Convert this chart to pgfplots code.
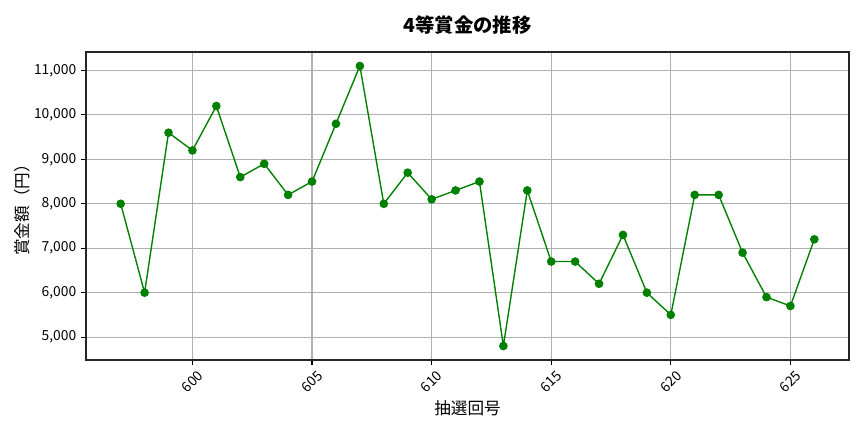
\documentclass[border=0pt]{standalone}
\usepackage{pgfplots}
\pgfplotsset{compat=1.18}
\usepackage{fontspec}
\setmainfont{Noto Sans CJK JP}
\definecolor{mplgreen}{HTML}{008000}
\definecolor{gridgray}{HTML}{B0B0B0}
\begin{document}
\begin{tikzpicture}
\path[use as bounding box] (0,0) rectangle (8.64in,4.32in);
\begin{axis}[
  at={(0.86in,0.72in)}, anchor=south west,
  width=7.63in, height=3.08in, scale only axis,
  xmin=595.55, xmax=627.45,
  ymin=4485, ymax=11415,
  xtick={600,605,...,625},
  ytick={5000,6000,...,11000},
  grid=major,
  major grid style={gridgray, line width=0.8pt},
  axis line style={black!85, line width=0.8pt},
  tick align=outside, tick pos=left,
  major tick length=3.5pt,
  every tick/.style={black, line width=0.8pt},
  /pgf/number format/assume math mode=true,
  yticklabel style={/pgf/number format/1000 sep={,}, font=\fontsize{10}{12}\selectfont},
  xticklabel style={/pgf/number format/1000 sep={}, font=\fontsize{10}{12}\selectfont, anchor=center, yshift=-12pt, rotate=45},
  scaled y ticks=false,
]
\addplot[color=mplgreen, line width=1pt, mark=*, mark size=2.6pt, mark options={fill=mplgreen, draw=mplgreen}] coordinates {
(597,8000) (598,6000) (599,9600) (600,9200) (601,10200) (602,8600)
(603,8900) (604,8200) (605,8500) (606,9800) (607,11100) (608,8000)
(609,8700) (610,8100) (611,8300) (612,8500) (613,4800) (614,8300)
(615,6700) (616,6700) (617,6200) (618,7300) (619,6000) (620,5500)
(621,8200) (622,8200) (623,6900) (624,5900) (625,5700) (626,7200)
};
\end{axis}
\node[font=\bfseries\fontsize{14}{17}\selectfont] at (4.675in,4.07in) {4等賞金の推移};
\node[font=\fontsize{12}{14}\selectfont] at (4.675in,0.24in) {抽選回号};
\node[font=\fontsize{12}{14}\selectfont, rotate=90] at (0.22in,2.26in) {賞金額（円）};
\end{tikzpicture}
\end{document}
